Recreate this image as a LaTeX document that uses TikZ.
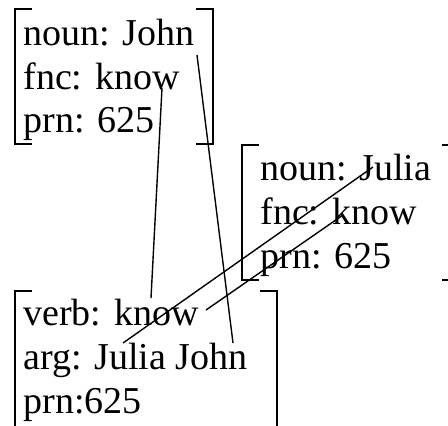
\documentclass[tikz,border=0pt]{standalone}
\usepackage{fontspec}
\setmainfont{Liberation Serif}

\begin{document}
\begin{tikzpicture}[x=0.5pt,y=-0.5pt,
    feat/.style={anchor=base west,inner sep=0pt,font=\fontsize{19}{22}\selectfont},
    bracket/.style={line width=1pt},
    link/.style={line width=0.7pt}]
            \useasboundingbox (0,0) rectangle (448,425);
            \clip (0,0) rectangle (448,425);

            \coordinate (JohnFnc) at (162,88);
            \coordinate (JohnEnd) at (197,55);
            \coordinate (JuliaNoun) at (373,167);
            \coordinate (JuliaFnc) at (343,215);
            \coordinate (VerbTop) at (151,298);
            \coordinate (VerbEnd) at (206,310);
            \coordinate (ArgJulia) at (123,343);
            \coordinate (ArgJohn) at (233,343);

            \draw[link] (JohnFnc) -- (VerbTop);
            \draw[link] (JohnEnd) -- (ArgJohn);
            \draw[link] (JuliaNoun) -- (ArgJulia);
            \draw[link] (JuliaFnc) -- (VerbEnd);

            % proplet John
            \node[feat] (john-noun) at (23,45) {noun: John};
            \node[feat] (john-fnc) at (23,89) {fnc: know};
            \node[feat] (john-prn) at (23,132) {prn: 625};
            \draw[bracket] (32,9) -| (15,144) -- (32,144);
            \draw[bracket] (196,9) -| (213,144) -- (196,144);

            % proplet Julia
            \node[feat] (julia-noun) at (260,180) {noun: Julia};
            \node[feat] (julia-fnc) at (260,224) {fnc: know};
            \node[feat] (julia-prn) at (260,268) {prn: 625};
            \draw[bracket] (259,145) -| (242,280) -- (259,280);
            \draw[bracket] (442,145) -| (459,280) -- (442,280);

            % proplet know
            \node[feat] (know-verb) at (23,325) {verb: know};
            \node[feat] (know-arg) at (23,369) {arg: Julia John};
            \node[feat] (know-prn) at (23,413) {prn:625};
            \draw[bracket] (32,291) -| (15,440);
            \draw[bracket] (260,291) -| (277,440);
            
        \end{tikzpicture}
\end{document}
